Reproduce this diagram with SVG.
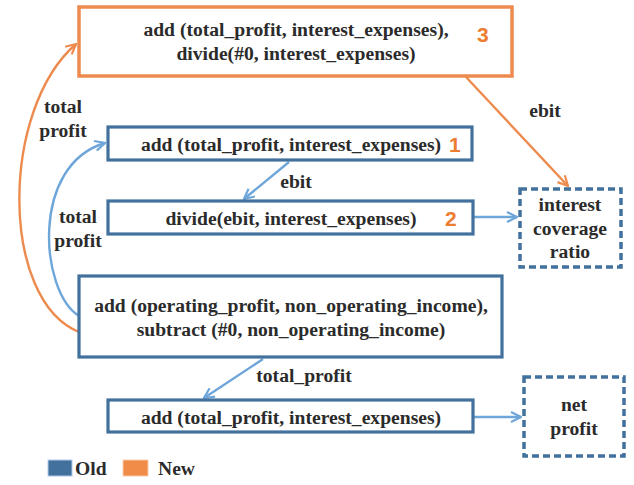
<svg xmlns="http://www.w3.org/2000/svg" width="634" height="485" viewBox="0 0 634 485">
<defs>
<style>
text{font-family:"Liberation Serif","DejaVu Serif",serif;font-weight:bold;font-size:19.6px;fill:#2b2b2b;text-anchor:middle}
text.num{font-family:"Liberation Sans",Arial,sans-serif;font-size:21px;fill:#ED7D31;text-anchor:start}
.old{fill:#fff;stroke:#41719C;stroke-width:3.2}
.new{fill:#fff;stroke:#ED8B4E;stroke-width:3.5}
.out{fill:#fff;stroke:#41719C;stroke-width:3.5;stroke-dasharray:7 4}
.cb{fill:none;stroke:#6FA6DA;stroke-width:2.4}
.co{fill:none;stroke:#ED8B4E;stroke-width:2.4}
text.leg{text-anchor:start}
</style>
<marker id="ab" viewBox="0 0 12 12" refX="11" refY="6" markerWidth="12" markerHeight="12" markerUnits="userSpaceOnUse" orient="auto">
<polyline points="1,1 11,6 1,11" fill="none" stroke="#6FA6DA" stroke-width="2.2"/>
</marker>
<marker id="ao" viewBox="0 0 12 12" refX="11" refY="6" markerWidth="12" markerHeight="12" markerUnits="userSpaceOnUse" orient="auto">
<polyline points="1,1 11,6 1,11" fill="none" stroke="#ED8B4E" stroke-width="2.2"/>
</marker>
</defs>
<rect width="634" height="485" fill="#fff"/>
<g id="connectors" font-family="Liberation Serif, serif">
<path class="co" d="M79 332 C 0 300, 0 110, 76 44" marker-end="url(#ao)"/>
<path class="cb" d="M79 316 C 40 292, 30 165, 105 143" marker-end="url(#ab)"/>
<line class="cb" x1="289" y1="162" x2="244" y2="199" marker-end="url(#ab)"/>
<line class="cb" x1="474" y1="217" x2="517" y2="217" marker-end="url(#ab)"/>
<line class="co" x1="466" y1="77" x2="568" y2="186" marker-end="url(#ao)"/>
<line class="cb" x1="263" y1="359" x2="204" y2="398" marker-end="url(#ab)"/>
<line class="cb" x1="474" y1="417" x2="521" y2="417" marker-end="url(#ab)"/>
<text x="63" y="113">total</text>
<text x="63" y="137">profit</text>
<text x="78" y="223">total</text>
<text x="78" y="247">profit</text>
<text x="296" y="188">ebit</text>
<text x="545" y="117">ebit</text>
<text x="304" y="382">total_profit</text>
</g>
<g id="n3">
<rect class="new" x="79" y="7" width="433" height="69"/>
<text x="296" y="36">add (total_profit, interest_expenses),</text>
<text x="296" y="60">divide(#0, interest_expenses)</text>
<text class="num" x="477" y="42">3</text>
</g>
<g id="n1">
<rect class="old" x="108" y="127" width="364" height="33"/>
<text x="291" y="151">add (total_profit, interest_expenses)</text>
<text class="num" x="449" y="152">1</text>
</g>
<g id="n2">
<rect class="old" x="108" y="201" width="365" height="33"/>
<text x="291" y="225">divide(ebit, interest_expenses)</text>
<text class="num" x="445" y="226">2</text>
</g>
<g id="icr">
<rect class="out" x="520" y="189" width="101" height="78"/>
<text x="570" y="211">interest</text>
<text x="570" y="235">coverage</text>
<text x="570" y="258">ratio</text>
</g>
<g id="n4">
<rect class="old" x="79" y="276" width="423" height="81"/>
<text x="291" y="312">add (operating_profit, non_operating_income),</text>
<text x="291" y="336">subtract (#0, non_operating_income)</text>
</g>
<g id="n5">
<rect class="old" x="108" y="400" width="365" height="32"/>
<text x="291" y="424">add (total_profit, interest_expenses)</text>
</g>
<g id="np">
<rect class="out" x="524" y="377" width="100" height="79"/>
<text x="574" y="411">net</text>
<text x="574" y="435">profit</text>
</g>
<g id="legend">
<rect x="48" y="460" width="24" height="16" fill="#41719C" stroke="#B4C7E7" stroke-width="1"/>
<text class="leg" x="75" y="475">Old</text>
<rect x="123" y="460" width="25" height="16" fill="#F08C48" stroke="#F8CBAD" stroke-width="1"/>
<text class="leg" x="158" y="475">New</text>
</g>
</svg>
